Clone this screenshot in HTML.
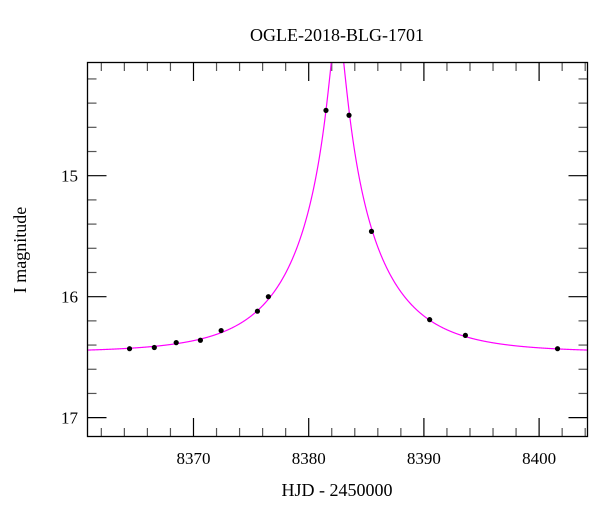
<!DOCTYPE html>
<html><head><meta charset="utf-8"><style>
body{margin:0;background:#fff}
svg text{font-family:"Liberation Serif",serif;fill:#000}
</style></head><body>
<svg id="chart" width="600" height="512" viewBox="0 0 600 512" xmlns="http://www.w3.org/2000/svg">
<defs><clipPath id="plotclip"><rect x="87.5" y="62" width="500" height="375"/></clipPath></defs>
<text x="337" y="41" font-size="18" text-anchor="middle">OGLE-2018-BLG-1701</text>
<text x="337" y="496" font-size="18" text-anchor="middle">HJD - 2450000</text>
<text transform="translate(26,250) rotate(-90)" font-size="18" text-anchor="middle">I magnitude</text>
<g id="ticks"></g>
<path id="model" fill="none" stroke="#ff00ff" stroke-width="1.2" clip-path="url(#plotclip)"/>
<g id="points"></g>
<rect x="87.5" y="62.5" width="500" height="374" fill="none" stroke="#000" stroke-width="1.3"/>
</svg>
<script>
const obsTimes = [8364.45, 8366.6, 8368.5, 8370.6, 8372.4, 8375.55, 8376.5, 8381.5, 8383.5, 8385.45, 8390.5, 8393.6, 8401.6];
const obsMags = [16.43, 16.42, 16.38, 16.36, 16.28, 16.12, 16.0, 14.46, 14.50, 15.46, 16.19, 16.32, 16.43];
const xTickLabels = [8370, 8380, 8390, 8400];
const yTickLabels = [15, 16, 17];
const modelT0 = [8382.5];
const modelTE = [7.28];
const modelU0 = [0.082];
const modelBase = [16.46];

const X0 = 87.5, X1 = 587.5, Y0 = 62, Y1 = 437;
const xMin = 8360.8, xMax = 8404.2, yMin = 14.06, yMax = 17.16;
function xs(t){return X0 + (t - xMin) / (xMax - xMin) * (X1 - X0);}
function ys(m){return Y0 + (m - yMin) / (yMax - yMin) * (Y1 - Y0);}
const NS = "http://www.w3.org/2000/svg";
function mk(tag, attrs, parent){const e=document.createElementNS(NS,tag);for(const k in attrs)e.setAttribute(k,attrs[k]);parent.appendChild(e);return e;}

const tg = document.getElementById('ticks');
for (let t = Math.ceil(xMin/2)*2; t <= xMax; t += 2) {
  const major = t % 10 === 0;
  const L = major ? 19 : 9, x = xs(t);
  const a = mk('line',{x1:x,x2:x,y1:Y1,y2:Y1-L,stroke:major?'#000':'#555','stroke-width':1.2},tg);
  
  
  const b = mk('line',{x1:x,x2:x,y1:Y0,y2:Y0+L,stroke:major?'#000':'#555','stroke-width':1.2},tg);
  
  
}
xTickLabels.forEach(v => {
  const t = mk('text',{x:xs(v),y:464,'font-size':17,'text-anchor':'middle'},tg);
  t.textContent = v;
  
  
});
for (let i = Math.ceil(yMin*5); i <= yMax*5; i++) {
  const m = i/5, major = i % 5 === 0;
  const L = major ? 19 : 9, y = ys(m);
  const a = mk('line',{x1:X0,x2:X0+L,y1:y,y2:y,stroke:major?'#000':'#555','stroke-width':1.2},tg);
  
  
  const b = mk('line',{x1:X1,x2:X1-L,y1:y,y2:y,stroke:major?'#000':'#555','stroke-width':1.2},tg);
  
  
}
yTickLabels.forEach(v => {
  const t = mk('text',{x:78,y:ys(v)+6,'font-size':17,'text-anchor':'end'},tg);
  t.textContent = v;
  
  
});

function modelMag(t){
  const tau = (t - modelT0[0]) / modelTE[0];
  const u = Math.sqrt(modelU0[0]*modelU0[0] + tau*tau);
  const A = (u*u + 2) / (u * Math.sqrt(u*u + 4));
  return modelBase[0] - 2.5*Math.log10(A);
}
let d = '';
for (let t = xMin; t <= xMax; t += 0.02) {
  d += (d ? 'L' : 'M') + xs(t).toFixed(2) + ',' + ys(modelMag(t)).toFixed(2);
}
document.getElementById('model').setAttribute('d', d);

const pg = document.getElementById('points');
obsTimes.forEach((t, i) => {
  const c = mk('circle',{cx:xs(t),cy:ys(obsMags[i]),r:2.6,fill:'#000'},pg);
  
  
});
</script>
</body></html>
